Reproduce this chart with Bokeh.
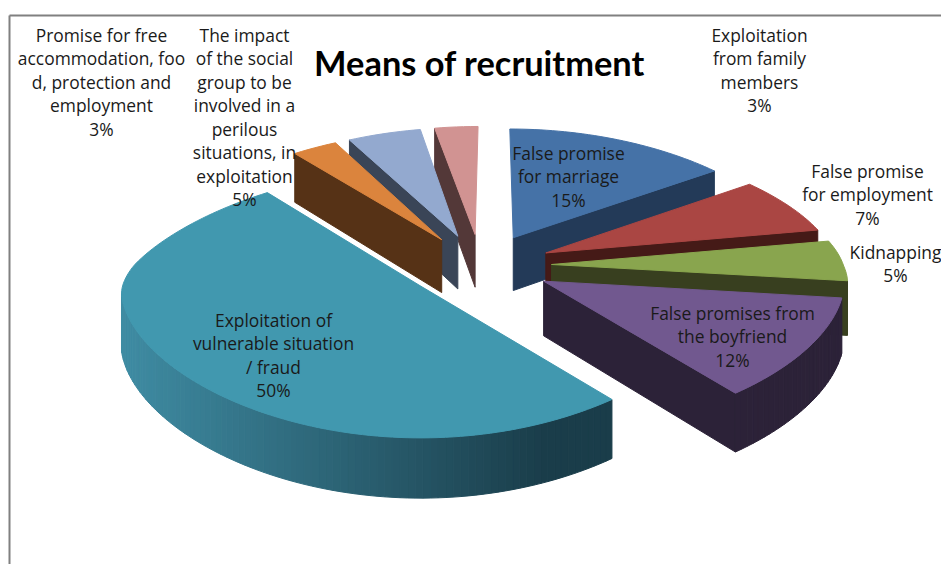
import numpy as np
from bokeh.plotting import figure
from bokeh.models import Range1d
from bokeh.core.properties import value
from bokeh.embed import file_html
from bokeh.resources import INLINE

categories = ["False promise for marriage", "False promise for employment", "Kidnapping",
              "False promises from the boyfriend", "Exploitation of vulnerable situation / fraud",
              "Promise for free accommodation, food, protection and employment",
              "The impact of the social group to be involved in a perilous situations, in exploitation",
              "Exploitation from family members"]
values = [15, 7, 5, 12, 50, 3, 5, 3]
top_colors = ["#4572a7", "#aa4643", "#89a54e", "#71588f", "#4198af", "#db843d", "#93a9cf", "#d19392"]
side_colors = ["#233a58", "#451a17", "#383f1f", "#2c2238", "#1a3d4a", "#563216", "#3a4557", "#533838"]
side_light = ["#233a58", "#451a17", "#383f1f", "#2c2238", "#3f8ca3", "#563216", "#3a4557", "#533838"]

label_lines = [
    (["False promise", "for marriage", "15%"], 568, 152),
    (["False promise", "for employment", "7%"], 867, 170),
    (["Kidnapping", "5%"], 895, 251),
    (["False promises from", "the boyfriend", "12%"], 732, 312),
    (["Exploitation of", "vulnerable situation", "/ fraud", "50%"], 273, 319),
    (["Promise for free", "accommodation, foo", "d, protection and", "employment", "3%"], 101, 34),
    (["The impact", "of the social", "group to be", "involved in a", "perilous", "situations, in", "exploitation", "5%"], 244, 34),
    (["Exploitation", "from family", "members", "3%"], 759, 34),
]
LINE_H = 23.5

CX, CY, RX, RY, PERSP, EXPLODE, DEPTH = 478.0, 265.0, 300.0, 128.0, 0.12, 0.25, 54.0


def project(X, Y, z=0.0):
    X, Y = np.asarray(X, dtype=float), np.asarray(Y, dtype=float)
    Yf = np.maximum(Y + 0.25, 0.0)
    far = Yf * Yf / (Yf + 0.3)
    sx = 1.0 / (1.0 + 0.24 * far)
    sy = 1.0 / (1.0 + PERSP * Y)
    shift = 5.0 * np.tanh(3.0 * np.maximum(Y, 0.0))
    return CX + shift + RX * X * sx, CY - RY * Y * sy + z * DEPTH * (1.0 - 0.1 * Y)


def area(xs, ys):
    xs, ys = np.asarray(xs), np.asarray(ys)
    return 0.5 * np.sum(xs * np.roll(ys, -1) - np.roll(xs, -1) * ys)


def mix(a, b, t):
    ca = [int(a[i:i + 2], 16) for i in (1, 3, 5)]
    cb = [int(b[i:i + 2], 16) for i in (1, 3, 5)]
    return "#%02x%02x%02x" % tuple(int(round(p + (q - p) * t)) for p, q in zip(ca, cb))


edges = np.cumsum([0] + values) / sum(values) * 2 * np.pi
slices = []
for i in range(len(values)):
    t1, t2 = edges[i], edges[i + 1]
    mid = (t1 + t2) / 2
    slices.append((np.cos(mid), i, t1, t2, mid))
slices.sort(key=lambda r: -r[0])

polys_x, polys_y, fills = [], [], []


def add(xs, ys, col):
    polys_x.append([float(v) for v in xs])
    polys_y.append([float(v) for v in ys])
    fills.append(col)


for _, i, t1, t2, mid in slices:
    ox, oy = EXPLODE * np.sin(mid), EXPLODE * np.cos(mid)
    th = np.linspace(t1, t2, max(6, int((t2 - t1) * 40)))
    gx = ox + np.sin(th)
    gy = oy + np.cos(th)
    tx, ty = project(gx, gy)
    bx, by = project(gx, gy, 1.0)
    ax, ay = project(ox, oy)
    abx, aby = project(ox, oy, 1.0)
    w1 = ([ax, tx[0], bx[0], abx], [ay, ty[0], by[0], aby])
    w2 = ([tx[-1], ax, abx, bx[-1]], [ty[-1], ay, aby, by[-1]])
    for w in (w1, w2):
        if area(*w) < -180:
            add(w[0], w[1], side_colors[i])
    xmin, xmax = tx.min(), tx.max()
    for k in range(len(th) - 1):
        qx = [tx[k], tx[k + 1], bx[k + 1], bx[k]]
        qy = [ty[k], ty[k + 1], by[k + 1], by[k]]
        if area(qx, qy) < 0:
            frac = min(1.0, (tx[k] - xmin) / ((xmax - xmin) * 0.87))
            add(qx, qy, mix(side_light[i], side_colors[i], frac))
    add([ax] + list(tx), [ay] + list(ty), top_colors[i])

p = figure(width=941, height=564, output_backend="svg", toolbar_location=None,
           x_range=Range1d(0, 941), y_range=Range1d(564, 0), min_border=0)
p.axis.visible = False
p.grid.visible = False
p.outline_line_color = None
p.background_fill_color = "white"
p.border_fill_color = "white"

p.line([9, 9], [564, 15], line_color="#808080", line_width=2)
p.line([9, 941], [15, 15], line_color="#808080", line_width=2)

p.patches(polys_x, polys_y, fill_color=fills, line_color=fills, line_width=1)

p.text([479], [62], text=["Means of recruitment"], text_font=value("Lato"), text_font_style="bold",
       text_font_size="34.4px", text_align="center", text_baseline="middle", text_color="#000000")

tx_, ty_, tt_ = [], [], []
for lines, cx, top in label_lines:
    for n, s in enumerate(lines):
        tx_.append(cx)
        ty_.append(top + n * LINE_H)
        tt_.append(s)
p.text(tx_, ty_, text=tt_, text_font=value("Open Sans"), text_font_size="17.4px", text_align="center",
       text_baseline="middle", text_color="#1a1a1a")

open("out.html", "w").write(file_html(p, INLINE))
